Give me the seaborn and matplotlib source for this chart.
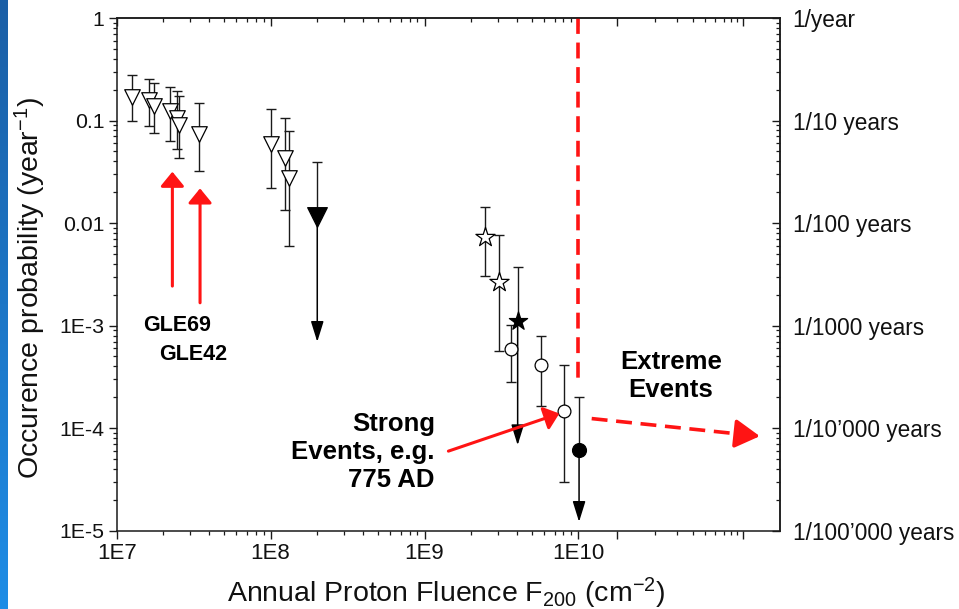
import numpy as np
import matplotlib
matplotlib.use("Agg")
import matplotlib.pyplot as plt
import seaborn as sns
from matplotlib.ticker import FixedLocator, FixedFormatter, NullFormatter
from matplotlib.colors import LinearSegmentedColormap

# ---------------- data ----------------
# open down-triangles
tri_x = [1.25e7, 1.63e7, 1.75e7, 2.22e7, 2.48e7, 2.54e7, 3.43e7, 1.0e8, 1.24e8, 1.32e8]
tri_y = [0.170, 0.157, 0.140, 0.124, 0.107, 0.0904, 0.0738, 0.0586, 0.0428, 0.0273]
tri_hi = [0.278, 0.254, 0.234, 0.211, 0.195, 0.173, 0.147, 0.129, 0.106, 0.0785]
tri_lo = [0.0989, 0.0890, 0.0760, 0.0635, 0.0527, 0.0428, 0.0322, 0.0221, 0.0134, 0.00597]
# filled triangle (upper limit)
trif_x = [2.01e8]
trif_y = [0.0115]
trif_hi = [0.0391]
trif_lim = [6.95e-4]
# open stars
star_x = [2.47e9, 3.05e9]
star_y = [0.00735, 0.00267]
star_hi = [0.0144, 0.00764]
star_lo = [0.00306, 5.64e-4]
# filled star (upper limit)
starf_x = [4.03e9]
starf_y = [1.11e-3]
starf_hi = [3.75e-3]
starf_lim = [6.83e-5]
# open circles
circ_x = [3.63e9, 5.71e9, 8.1e9]
circ_y = [5.86e-4, 4.12e-4, 1.48e-4]
circ_hi = [1.01e-3, 7.9e-4, 4.12e-4]
circ_lo = [2.79e-4, 1.65e-4, 2.99e-5]
# filled circle (upper limit)
circf_x = [1.01e10]
circf_y = [6.19e-5]
circf_hi = [2.0e-4]
circf_lim = [1.22e-5]

x_ticks = [1e7, 1e8, 1e9, 1e10]
x_ticklabels = ["1E7", "1E8", "1E9", "1E10"]
y_ticks = [1, 0.1, 0.01, 1e-3, 1e-4, 1e-5]
y_ticklabels = ["1", "0.1", "0.01", "1E-3", "1E-4", "1E-5"]
r_ticklabels = ["1/year", "1/10 years", "1/100 years", "1/1000 years",
                "1/10\u2019000 years", "1/100\u2019000 years"]

# ---------------- style ----------------
sns.set_style("ticks")
plt.rcParams["font.family"] = ["Liberation Sans", "DejaVu Sans"]
plt.rcParams["mathtext.default"] = "regular"

W, H = 959, 609
fig = plt.figure(figsize=(W / 100, H / 100), dpi=100)
L, R, B, T = 116.7, 780.0, 530.7, 18.0
ax = fig.add_axes([L / W, 1 - B / H, (R - L) / W, (B - T) / H])
ax.set_xscale("log")
ax.set_yscale("log")
ax.set_xlim(1e7, 10 ** (7 + (R - L) / 153.9))
ax.set_ylim(1e-5, 1)

EC = "#1a1a1a"


def ebars(x, y, lo, hi):
    y = np.array(y); lo = np.array(lo); hi = np.array(hi)
    ax.errorbar(x, y, yerr=[y - lo, hi - y], fmt="none", ecolor=EC,
                elinewidth=1.0, capsize=3.6, capthick=1.0, zorder=2)


def limits(x, y, hi, lim):
    y = np.array(y); hi = np.array(hi)
    ax.errorbar(x, y, yerr=[np.zeros_like(y), hi - y], fmt="none", ecolor=EC,
                elinewidth=1.0, capsize=3.6, capthick=1.0, zorder=2)
    for xi, yi, li in zip(x, y, lim):
        ax.annotate("", xy=(xi, li), xytext=(xi, yi),
                    arrowprops=dict(arrowstyle="-|>,head_length=0.9,head_width=0.28",
                                    color="black", lw=1.1, mutation_scale=14,
                                    shrinkA=0, shrinkB=0), zorder=2)


ebars(tri_x, tri_y, tri_lo, tri_hi)
ebars(star_x, star_y, star_lo, star_hi)
ebars(circ_x, circ_y, circ_lo, circ_hi)
limits(trif_x, trif_y, trif_hi, trif_lim)
limits(starf_x, starf_y, starf_hi, starf_lim)
limits(circf_x, circf_y, circf_hi, circf_lim)

kw = dict(ax=ax, zorder=4, linewidth=0.9, edgecolor="black", legend=False)
sns.scatterplot(x=tri_x, y=tri_y, marker="v", s=125, color="white", **kw)
sns.scatterplot(x=trif_x, y=trif_y, marker="v", s=200, color="black", **kw)
sns.scatterplot(x=star_x, y=star_y, marker="*", s=210, color="white", **kw)
sns.scatterplot(x=starf_x, y=starf_y, marker="*", s=190, color="black", **kw)
sns.scatterplot(x=circ_x, y=circ_y, marker="o", s=85, color="white", **kw)
sns.scatterplot(x=circf_x, y=circf_y, marker="o", s=100, color="black", **kw)

# ---------------- ticks ----------------
ext0, ext1 = 10.251, 11.070
x_major = x_ticks + [10 ** ext0, 10 ** ext1]
x_minor = [k * 10.0 ** n for n in range(7, 10) for k in range(2, 10)]
x_minor += [10 ** (ext0 + np.log10(k) * (ext1 - ext0)) for k in range(2, 10)]
y_minor = [k * 10.0 ** n for n in range(-5, 0) for k in range(2, 10)]

ax.xaxis.set_major_locator(FixedLocator(x_major))
ax.xaxis.set_major_formatter(FixedFormatter(x_ticklabels + ["", ""]))
ax.xaxis.set_minor_locator(FixedLocator(x_minor))
ax.xaxis.set_minor_formatter(NullFormatter())
ax.yaxis.set_major_locator(FixedLocator(y_ticks))
ax.yaxis.set_major_formatter(FixedFormatter(y_ticklabels))
ax.yaxis.set_minor_locator(FixedLocator(y_minor))
ax.yaxis.set_minor_formatter(NullFormatter())

ax.tick_params(which="major", direction="out", length=6, width=1.0, color=EC,
               labelcolor="#111111", pad=3)
ax.tick_params(axis="y", which="major", labelsize=15.3)
ax.tick_params(axis="x", which="major", labelsize=16)
ax.tick_params(which="minor", direction="out", length=3.2, width=0.9, color=EC)
for s in ax.spines.values():
    s.set_linewidth(1.1)
    s.set_color(EC)
    s.set_visible(True)

top = ax.secondary_xaxis("top")
top.xaxis.set_major_locator(FixedLocator(x_major))
top.xaxis.set_minor_locator(FixedLocator(x_minor))
top.xaxis.set_major_formatter(NullFormatter())
top.xaxis.set_minor_formatter(NullFormatter())
top.tick_params(which="major", direction="in", length=6, width=1.0, color=EC)
top.tick_params(which="minor", direction="in", length=3.2, width=0.9, color=EC)
top.spines["top"].set_linewidth(1.1)

right = ax.secondary_yaxis("right")
right.yaxis.set_major_locator(FixedLocator(y_ticks))
right.yaxis.set_major_formatter(FixedFormatter(r_ticklabels))
right.yaxis.set_minor_locator(FixedLocator(y_minor))
right.yaxis.set_minor_formatter(NullFormatter())
right.tick_params(which="major", direction="in", length=6, width=1.0, color=EC,
                  labelsize=16.3, labelcolor="#111111", pad=9)
right.tick_params(which="minor", direction="in", length=3.2, width=0.9, color=EC)
right.spines["right"].set_linewidth(1.1)

# ---------------- labels ----------------
ax.set_xlabel("Annual Proton Fluence F$_{200}$ (cm$^{-2}$)", fontsize=20.5, color="#111111")
ax.xaxis.set_label_coords(0.4965, -0.1215)
ax.xaxis.label.set_va("center")
ax.set_ylabel("Occurence probability (year$^{-1}$)", fontsize=20.5, color="#111111")
ax.yaxis.set_label_coords(-0.1295, 0.473)
ax.yaxis.label.set_va("center")

# ---------------- annotations ----------------
RED = "#ff1414"
red_head = "-|>,head_length=0.55,head_width=0.45"
for (xa, y0, y1) in [(2.30e7, 2.43e-3, 0.0317), (3.48e7, 1.67e-3, 0.0218)]:
    ax.annotate("", xy=(xa, y1), xytext=(xa, y0),
                arrowprops=dict(arrowstyle=red_head, color=RED, lw=2.2,
                                mutation_scale=16, shrinkA=0, shrinkB=0), zorder=5)
ax.annotate("", xy=(7.52e9, 1.39e-4), xytext=(1.43e9, 5.97e-5),
            arrowprops=dict(arrowstyle=red_head, color=RED, lw=2.2,
                            mutation_scale=16, shrinkA=0, shrinkB=0), zorder=5)

# vertical dashed boundary
ax.plot([1e10, 1e10], [1, 2.55e-4], color=RED, lw=2.6, ls=(0, (4.4, 2.4)), zorder=1)
# dashed arrow to extreme region
xs0, ys0, xs1, ys1 = 1.22e10, 1.24e-4, 1.51e11, 8.35e-5
t = 0.86
xm = 10 ** (np.log10(xs0) + t * (np.log10(xs1) - np.log10(xs0)))
ym = 10 ** (np.log10(ys0) + t * (np.log10(ys1) - np.log10(ys0)))
ax.plot([xs0, xm], [ys0, ym], color=RED, lw=2.6, ls=(0, (4.4, 2.4)), zorder=1)
ax.annotate("", xy=(xs1, ys1), xytext=(xm, ym),
            arrowprops=dict(arrowstyle="-|>,head_length=0.95,head_width=0.55",
                            color=RED, lw=2.6, mutation_scale=16,
                            shrinkA=0, shrinkB=0), zorder=5)

bold = dict(fontweight="bold", color="black")
ax.text(1.475e7, 1.01e-3, "GLE69", fontsize=15.5, ha="left", va="center", **bold)
ax.text(1.89e7, 5.24e-4, "GLE42", fontsize=15.5, ha="left", va="center", **bold)
ax.text(1.17e9, 5.87e-5, "Strong\nEvents, e.g.\n775 AD", fontsize=18.5,
        ha="right", va="center", multialignment="right", linespacing=1.2, **bold)
ax.text(4.0e10, 3.2e-4, "Extreme\nEvents", fontsize=18.5, ha="center",
        va="center", multialignment="center", linespacing=1.2, **bold)

# ---------------- blue side bar ----------------
bar = fig.add_axes([0, 0, 8 / W, 1])
grad = np.linspace(0, 1, 256).reshape(-1, 1)
cmap = LinearSegmentedColormap.from_list("bb", ["#1b5fa6", "#1f8de6"])
bar.imshow(grad, aspect="auto", cmap=cmap, extent=[0, 1, 0, 1], origin="upper")
bar.set_axis_off()

fig.savefig("out.png", dpi=100)
